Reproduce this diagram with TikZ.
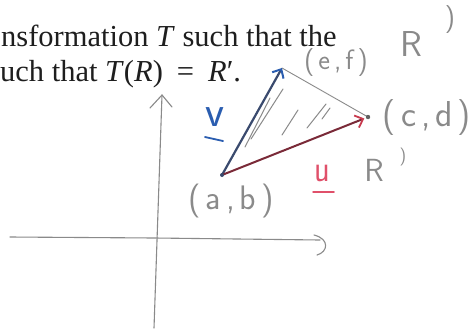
\documentclass[tikz,border=0pt]{standalone}
\usepackage{fontspec}
\setmainfont{Liberation Serif}
\usetikzlibrary{arrows.meta}
\definecolor{pencil}{HTML}{8A8A8A}
\definecolor{vshaft}{HTML}{3A4A6E}
\definecolor{vhead}{HTML}{2A5DB0}
\definecolor{ushaft}{HTML}{7A2A38}
\definecolor{uhead}{HTML}{C83A4E}
\definecolor{ulabel}{HTML}{E0506A}
\definecolor{inktext}{HTML}{1E1E1E}
\newcommand{\gp}{\hspace{5pt}}
\tikzset{
  bookline/.style={inner sep=0pt, anchor=base west, text=inktext, font=\fontsize{30.5}{34}\selectfont},
  hand/.style={inner sep=0pt, text=pencil, font=\sffamily\fontsize{#1}{#1}\selectfont},
  pencilline/.style={draw=pencil, line width=1.1pt, line cap=round, line join=round},
  hatch/.style={draw=pencil, line width=1pt, line cap=round},
}
\begin{document}
\begin{tikzpicture}[x=1pt,y=-1pt]
\useasboundingbox[fill=white] (0,0) rectangle (473,333);

% printed text
\node[bookline] (l1) at (1,46) {nsformation \textit{T} such that the};
\node[bookline] (l2) at (0,81) {uch that \textit{T}(\textit{R})\hspace{14pt}=\hspace{14pt}\textit{R}′.};

% axes
\coordinate (ytop) at (162,95);
\coordinate (ybot) at (154,328);
\coordinate (xl) at (10,237);
\coordinate (xr) at (320,240);
\draw[pencilline] (ybot) -- (ytop);
\draw[pencilline] (150,108) -- (ytop) -- (172,107);
\draw[pencilline] (xl) -- (155,238) -- (xr);
\draw[pencilline] (314,235) .. controls (330,239) and (328,252) .. (317,255);

% triangle vertices
\coordinate (A) at (222,175);
\coordinate (E) at (282,68);
\coordinate (C) at (368,117);

% hatching
\draw[hatch] (245,147) -- (270,98);
\draw[hatch] (251,139) -- (283,89);
\draw[hatch] (282,135) -- (298,110);
\draw[hatch] (307,128) -- (326,104);
\draw[hatch] (322,119) -- (330,108);

% edge E-C
\draw[pencilline, line width=0.9pt] (E) -- (C);
\fill[pencil!70!black] (C) circle (2.2pt);

% vectors
\draw[line width=2.2pt, vshaft, line cap=round,
  -{Straight Barb[color=vhead, length=7pt, width=13pt, line width=2pt]}] (A) -- (E);
\draw[line width=2pt, ushaft, line cap=round, shorten >=4pt,
  -{Straight Barb[color=uhead, length=7pt, width=13pt, line width=1.8pt]}] (A) -- (C);
\fill[vshaft] (A) circle (2pt);

% handwritten labels
\node[hand=34] (ab) at (231,201) {(\gp a\gp,\gp b\gp)};
\node[hand=28] (ef) at (336,63) {(\hspace{4pt}e\hspace{4pt},\hspace{4pt}f\hspace{4pt})};
\node[hand=36] (cd) at (427,118) {(\gp c\gp,\gp d\gp)};
\node[hand=36] (Rtop) at (411,44) {R};
\node[hand=28] (Rtopp) at (450,20) {)};
\node[hand=32] (Rbot) at (374,170) {R};
\node[hand=18] (Rbotp) at (403,157) {)};

% vector labels
\node[inner sep=0pt, text=vhead, font=\sffamily\fontsize{44}{44}\selectfont] (vl) at (215,117) {v};
\draw[vhead, line width=1.8pt, line cap=round] (205,137) -- (223,141);
\node[inner sep=0pt, text=ulabel, font=\sffamily\fontsize{38}{38}\selectfont, xscale=0.85] (ul) at (322,173) {u};
\draw[ulabel, line width=1.5pt, line cap=round] (313,192) -- (334,192);
\end{tikzpicture}
\end{document}
